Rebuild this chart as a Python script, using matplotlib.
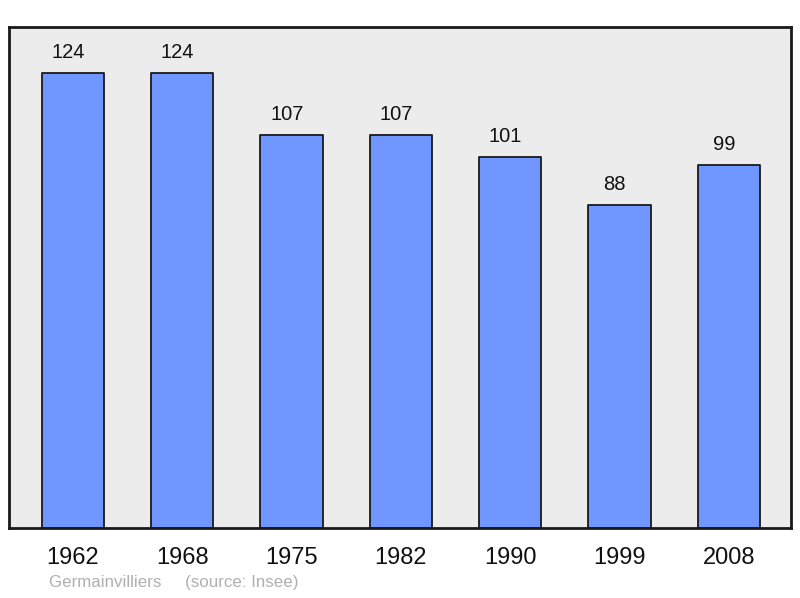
import matplotlib
matplotlib.use("Agg")
import matplotlib.pyplot as plt

years = ["1962", "1968", "1975", "1982", "1990", "1999", "2008"]
population = [124, 124, 107, 107, 101, 88, 99]
title_note = "Germainvilliers     (source: Insee)"

plt.rcParams['font.family'] = ['Liberation Sans', 'DejaVu Sans']

fig = plt.figure(figsize=(8, 5.98), dpi=100)
ax = fig.add_axes([9/800, 70/598, 782/800, 501/598])
ax.set_facecolor('#ececec')

x = list(range(len(years)))
bars = ax.bar(x, population, width=0.57, color='#7097ff', edgecolor='#1a1a1a',
              linewidth=1.3, zorder=2)
for b in bars:
    b.set_joinstyle('round')

for xi, v in zip(x, population):
    ax.annotate(str(v), (xi, v), xytext=(-3.4, 14.8), textcoords='offset points',
                ha='center', va='center', fontsize=14.5, color='#111111')

ax.set_xlim(-0.585, 6.57)
ax.set_ylim(0, 136.5)
ax.set_xticks(x)
ax.set_xticklabels(years, fontsize=17, color='#111111')
ax.tick_params(axis='x', length=0, pad=14)
ax.set_yticks([])
for s in ax.spines.values():
    s.set_linewidth(2)
    s.set_color('#1a1a1a')
    s.set_joinstyle('round')

fig.text(49/800, 1 - 583/598, title_note, fontsize=12.2, color='#b0b0b0',
         ha='left', va='center')

fig.savefig('out.png', dpi=100)
